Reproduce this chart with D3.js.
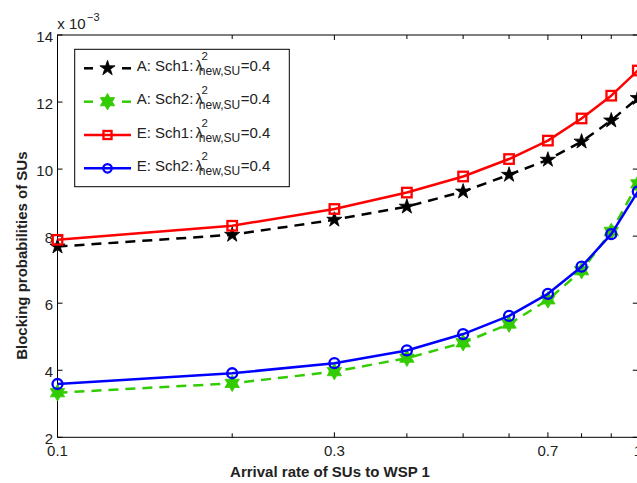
<!DOCTYPE html>
<html><head><meta charset="utf-8">
<script src="https://cdn.jsdelivr.net/npm/d3@7"></script>
<style>body{margin:0;background:#fff} svg{display:block}</style>
</head><body>
<svg id="c" width="637" height="483"></svg>
<script>
// ---- data ----
const xValues = [0.1, 0.2, 0.3, 0.4, 0.5, 0.6, 0.7, 0.8, 0.9, 1.0];
const aSch1 = [7.69, 8.04, 8.49, 8.88, 9.33, 9.83, 10.28, 10.82, 11.45, 12.12];
const aSch2 = [3.33, 3.61, 3.96, 4.36, 4.82, 5.38, 6.10, 6.97, 8.14, 9.56];
const eSch1 = [7.89, 8.31, 8.81, 9.30, 9.78, 10.30, 10.85, 11.51, 12.19, 12.94];
const eSch2 = [3.59, 3.91, 4.21, 4.59, 5.08, 5.62, 6.28, 7.09, 8.06, 9.33];
const seriesLabels = ["A: Sch1:", "A: Sch2:", "E: Sch1:", "E: Sch2:"];
const xTickValues = [0.1, 0.3, 0.7, 1];
const xTickLabels = ["0.1", "0.3", "0.7", "1"];
const xMinorTicks = [0.2, 0.4, 0.5, 0.6, 0.8, 0.9];
const yTickValues = [2, 4, 6, 8, 10, 12, 14];
const xLabel = "Arrival rate of SUs to WSP 1";
const yLabel = "Blocking probabilities of SUs";

// ---- styles ----
const styles = [
  {vals: aSch1, color: "#000000", dash: "10,7", marker: "penta"},
  {vals: aSch2, color: "#33cc00", dash: "10,7", marker: "hexa"},
  {vals: eSch1, color: "#ff0000", dash: null, marker: "square"},
  {vals: eSch2, color: "#0000ff", dash: null, marker: "circle"}
];
const FONT = "'Liberation Sans', Arial, Helvetica, sans-serif";

const svg = d3.select("#c");
const L = 57.5, R = 637.8, T = 35, B = 437.3;
const x = d3.scaleLog().domain([0.1, 1]).range([L, R]);
const y = d3.scaleLinear().domain([2, 14]).range([B, T]);

function starPath(n, ro, ri) {
  const pts = [];
  for (let i = 0; i < 2 * n; i++) {
    const a = -Math.PI / 2 + i * Math.PI / n;
    const r = i % 2 === 0 ? ro : ri;
    pts.push([r * Math.cos(a), r * Math.sin(a)]);
  }
  return "M" + pts.map(p => p[0].toFixed(2) + "," + p[1].toFixed(2)).join("L") + "Z";
}
function drawMarker(g, type, color, cx, cy, scale) {
  scale = scale || 1;
  if (type === "penta") {
    g.append("path").attr("d", starPath(5, 8 * scale, 8 * scale * 0.382))
      .attr("transform", `translate(${cx},${cy})`).attr("fill", color).attr("stroke", color).attr("stroke-width", 0.8);
  } else if (type === "hexa") {
    g.append("path").attr("d", starPath(6, 8.3 * scale, 8.3 * scale * 0.577))
      .attr("transform", `translate(${cx},${cy})`).attr("fill", color).attr("stroke", color).attr("stroke-width", 0.8);
  } else if (type === "square") {
    const s = 9.5 * scale;
    g.append("rect").attr("x", cx - s / 2).attr("y", cy - s / 2).attr("width", s).attr("height", s)
      .attr("fill", "none").attr("stroke", color).attr("stroke-width", 2.3);
  } else {
    g.append("circle").attr("cx", cx).attr("cy", cy).attr("r", 5 * scale)
      .attr("fill", "none").attr("stroke", color).attr("stroke-width", 2.3);
  }
}

// ---- axes box & ticks ----
const ax = svg.append("g");
ax.append("rect").attr("x", L).attr("y", T).attr("width", R - L).attr("height", B - T)
  .attr("fill", "none").attr("stroke", "#000").attr("stroke-width", 1);

const tk = 5, tkMinor = 4;
xTickValues.forEach(v => {
  ax.append("line").attr("x1", x(v)).attr("x2", x(v)).attr("y1", B).attr("y2", B - tk).attr("stroke", "#000");
  ax.append("line").attr("x1", x(v)).attr("x2", x(v)).attr("y1", T).attr("y2", T + tk).attr("stroke", "#000");
});
xMinorTicks.forEach(v => {
  ax.append("line").attr("x1", x(v)).attr("x2", x(v)).attr("y1", B).attr("y2", B - tkMinor).attr("stroke", "#000");
  ax.append("line").attr("x1", x(v)).attr("x2", x(v)).attr("y1", T).attr("y2", T + tkMinor).attr("stroke", "#000");
});
yTickValues.forEach(v => {
  ax.append("line").attr("x1", L).attr("x2", L + tk).attr("y1", y(v)).attr("y2", y(v)).attr("stroke", "#000");
  ax.append("line").attr("x1", R).attr("x2", R - tk).attr("y1", y(v)).attr("y2", y(v)).attr("stroke", "#000");
  ax.append("text").attr("x", 53).attr("y", y(v) + 6.8).attr("text-anchor", "end")
    .attr("font-family", FONT).attr("font-size", 15).attr("fill", "#222").text(v);
});
xTickValues.forEach((v, i) => {
  ax.append("text").attr("x", x(v)).attr("y", 456).attr("text-anchor", "middle")
    .attr("font-family", FONT).attr("font-size", 15).attr("fill", "#222").text(xTickLabels[i]);
});

// exponent label
const ex = svg.append("text").attr("x", 57.3).attr("y", 29.3).attr("font-family", FONT).attr("font-size", 15).attr("fill", "#222");
ex.append("tspan").text("x 10");
svg.append("text").attr("x", 87).attr("y", 20.7).attr("font-family", FONT).attr("font-size", 11).attr("fill", "#222").text("\u22123");

// axis labels
svg.append("text").attr("x", 330).attr("y", 477).attr("text-anchor", "middle")
  .attr("font-family", FONT).attr("font-size", 15).attr("font-weight", "bold").attr("fill", "#222").text(xLabel);
svg.append("text").attr("transform", "translate(26.5,255.7) rotate(-90)").attr("text-anchor", "middle")
  .attr("font-family", FONT).attr("font-size", 15).attr("font-weight", "bold").attr("fill", "#222").text(yLabel);

// ---- series ----
const plot = svg.append("g");
const line = d3.line().x((d, i) => x(xValues[i])).y(d => y(d));
styles.forEach(s => {
  const g = plot.append("g");
  g.append("path").attr("d", line(s.vals)).attr("fill", "none").attr("stroke", s.color)
    .attr("stroke-width", 2.5).attr("stroke-dasharray", s.dash).attr("stroke-linejoin", "round");
  s.vals.forEach((v, i) => drawMarker(g, s.marker, s.color, x(xValues[i]), y(v)));
});

// ---- legend ----
const lg = svg.append("g");
lg.append("rect").attr("x", 74.7).attr("y", 49.3).attr("width", 214.6).attr("height", 137.4)
  .attr("fill", "#fff").attr("stroke", "#000").attr("stroke-width", 1);
const rowY = [68.3, 101.7, 135, 168.3];
styles.forEach((s, k) => {
  const cy = rowY[k];
  if (s.dash) {
    lg.append("line").attr("x1", 84).attr("x2", 93).attr("y1", cy).attr("y2", cy).attr("stroke", s.color).attr("stroke-width", 2.5);
    lg.append("line").attr("x1", 122).attr("x2", 131).attr("y1", cy).attr("y2", cy).attr("stroke", s.color).attr("stroke-width", 2.5);
  } else {
    lg.append("line").attr("x1", 84).attr("x2", 131).attr("y1", cy).attr("y2", cy).attr("stroke", s.color).attr("stroke-width", 2.5);
  }
  drawMarker(lg, s.marker, s.color, 107.5, cy, s.marker === "square" || s.marker === "circle" ? 0.85 : 1);
  const base = cy + 2.5;
  const t = lg.append("text").attr("x", 136.7).attr("y", base).attr("font-family", FONT).attr("font-size", 15).attr("fill", "#222")
    .text(seriesLabels[k]);
  const w = t.node().getComputedTextLength();
  const lx = 136.7 + w + 2;
  const lam = lg.append("text").attr("x", lx).attr("y", base).attr("font-family", FONT).attr("font-size", 15).attr("fill", "#222").text("\u03bb");
  lg.append("text").attr("x", lx + 6).attr("y", base - 10.7).attr("font-family", FONT).attr("font-size", 11.5).attr("fill", "#222").text("2");
  const sub = lg.append("text").attr("x", lx + 3.4).attr("y", base + 4.3).attr("font-family", FONT).attr("font-size", 12).attr("fill", "#222").text("new,SU");
  const sw = sub.node().getComputedTextLength();
  lg.append("text").attr("x", lx + 3.4 + sw + 0.5).attr("y", base).attr("font-family", FONT).attr("font-size", 15).attr("fill", "#222").text("=0.4");
});
</script>
</body></html>
